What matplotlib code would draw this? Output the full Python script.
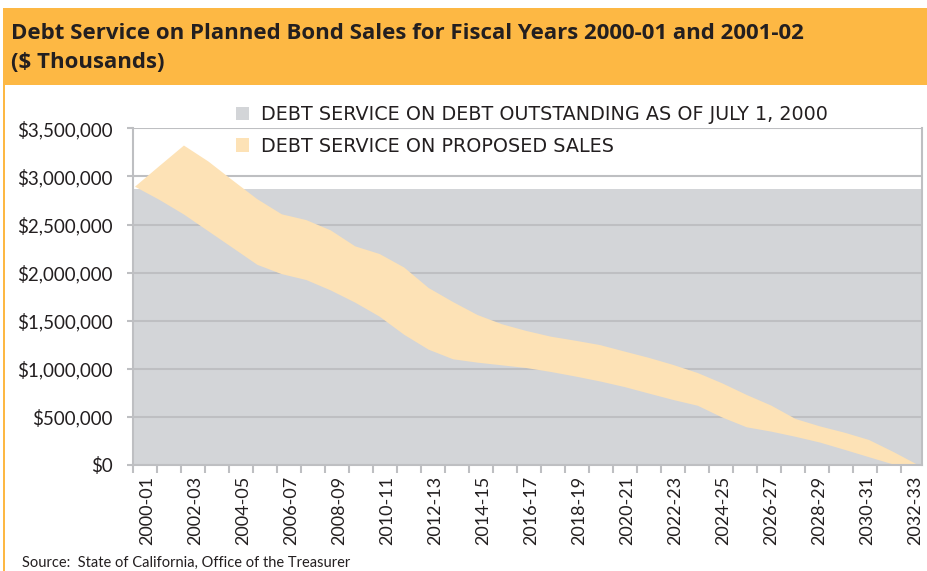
import matplotlib
matplotlib.use("Agg")
import matplotlib.pyplot as plt
from matplotlib.patches import Rectangle, Patch
from matplotlib.ticker import FixedLocator, FuncFormatter, NullFormatter

# ---------------- data ($ thousands) ----------------
fiscal_years = ["2000-01", "2001-02", "2002-03", "2003-04", "2004-05", "2005-06",
                "2006-07", "2007-08", "2008-09", "2009-10", "2010-11", "2011-12",
                "2012-13", "2013-14", "2014-15", "2015-16", "2016-17", "2017-18",
                "2018-19", "2019-20", "2020-21", "2021-22", "2022-23", "2023-24",
                "2024-25", "2025-26", "2026-27", "2027-28", "2028-29", "2029-30",
                "2030-31", "2031-32", "2032-33"]

# gray area: debt service on debt outstanding as of July 1, 2000 (drawn flat in the source)
outstanding_level = [2870000, 2870000, 2870000, 2870000, 2870000, 2870000, 2870000,
                     2870000, 2870000, 2870000, 2870000, 2870000, 2870000, 2870000,
                     2870000, 2870000, 2870000, 2870000, 2870000, 2870000, 2870000,
                     2870000, 2870000, 2870000, 2870000, 2870000, 2870000, 2870000,
                     2870000, 2870000, 2870000, 2870000, 2870000]

# peach band: debt service on proposed sales (bottom and top edge of the band)
proposed_bottom = [2893000, 2756000, 2604000, 2430000, 2256000, 2081000, 1984000,
                   1923000, 1815000, 1688000, 1542000, 1354000, 1199000, 1099000,
                   1064000, 1036000, 1008000, 967000, 920000, 869000, 811000,
                   743000, 676000, 616000, 494000, 392000, 347000, 293000,
                   233000, 158000, 81000, 5000, 0]
proposed_top = [2893000, 3108000, 3321000, 3155000, 2957000, 2763000, 2606000,
                2546000, 2439000, 2273000, 2193000, 2053000, 1840000, 1694000,
                1559000, 1463000, 1393000, 1334000, 1292000, 1247000, 1180000,
                1114000, 1040000, 956000, 849000, 728000, 618000, 478000,
                401000, 336000, 260000, 135000, 0]

y_ticks = [0, 500000, 1000000, 1500000, 2000000, 2500000, 3000000, 3500000]

legend_labels = ["DEBT SERVICE ON DEBT OUTSTANDING AS OF JULY 1, 2000",
                 "DEBT SERVICE ON PROPOSED SALES"]
title_line1 = "Debt Service on Planned Bond Sales for Fiscal Years 2000-01 and 2001-02"
title_line2 = "($ Thousands)"
source_text = "Source:  State of California, Office of the Treasurer"

# ---------------- style ----------------
W, H = 927, 571
ORANGE = "#FDB844"
GRAY_AREA = "#D3D5D8"
PEACH = "#FDE2B6"
GRID = "#BEBFC2"
TEXT = "#231F20"
PX = 0.72  # points per pixel at 100 dpi

fig = plt.figure(figsize=(W / 100, H / 100), dpi=100)

def fx(px):
    return px / W

def fy(py):
    return 1 - py / H

# banner and left rule
fig.patches.append(Rectangle((fx(3), fy(85)), fx(924), 77 / H, transform=fig.transFigure,
                             facecolor=ORANGE, edgecolor="none", zorder=0))
fig.patches.append(Rectangle((fx(3), 0), fx(2.2), fy(85), transform=fig.transFigure,
                             facecolor=ORANGE, edgecolor="none", zorder=0))

fig.text(fx(11), fy(39), title_line1, family="Open Sans", fontweight="bold", fontsize=16,
         color=TEXT, va="baseline", ha="left")
fig.text(fx(11), fy(68), title_line2, family="Open Sans", fontweight="bold", fontsize=16,
         color=TEXT, va="baseline", ha="left")

# axes: left spine at px 133, right edge 922, $0 at 465, $3.5M at 128.3
ax = fig.add_axes([fx(133), fy(465), fx(922 - 133), (465 - 128.3) / H])

# data index i sits at pixel 135 + 24.47*i
step = 24.47
def dx(px):
    return (px - 135) / step

x = list(range(len(fiscal_years)))
ax.set_xlim(dx(133), dx(922))
ax.set_ylim(0, 3500000)

xl = ax.get_xlim()
ax.fill_between([xl[0], xl[1]], 0, [outstanding_level[0], outstanding_level[-1]],
                facecolor=GRAY_AREA, edgecolor="none", zorder=0.2)
ax.fill_between(x, proposed_bottom, proposed_top, facecolor=PEACH, edgecolor="none",
                zorder=2, linewidth=0)

# gridlines
ax.set_yticks(y_ticks)
ax.yaxis.set_major_formatter(FuncFormatter(lambda v, p: "${:,.0f}".format(v)))
ax.yaxis.grid(True, color=GRID, linewidth=1.5)
ax.set_axisbelow(True)

# x ticks: marks at category boundaries, labels every other year
bounds = [dx(133 + 24 * k) for k in range(34) if 133 + 24 * k <= 921]
ax.xaxis.set_major_locator(FixedLocator(bounds))
ax.xaxis.set_major_formatter(NullFormatter())
label_pos = [dx(147 + 48 * j) for j in range(17)]
ax.xaxis.set_minor_locator(FixedLocator(label_pos))
ax.xaxis.set_minor_formatter(FuncFormatter(lambda v, p: fiscal_years[2 * p] if p < 17 else ""))

ax.tick_params(axis="x", which="major", length=8 * PX, width=1.5, color=GRID, direction="out")
ax.tick_params(axis="x", which="minor", length=0, pad=11 * PX, labelrotation=90,
               labelsize=13, labelcolor=TEXT)
ax.tick_params(axis="y", which="major", length=6.5 * PX, width=1.5, color=GRID,
               pad=13.5 * PX, labelsize=13.5, labelcolor=TEXT)
for lab in ax.get_yticklabels() + ax.get_xticklabels(minor=True):
    lab.set_family("Lato")

for side in ["left", "bottom", "right"]:
    ax.spines[side].set_color(GRID)
    ax.spines[side].set_linewidth(1.5)
ax.spines["top"].set_visible(False)
ax.patch.set_alpha(0)

# legend
handles = [Patch(facecolor=GRAY_AREA, edgecolor="none"),
           Patch(facecolor=PEACH, edgecolor="none")]
fig.legend(handles, legend_labels, loc="upper left",
           bbox_to_anchor=(fx(236), fy(105.5)), frameon=False,
           prop={"family": "DejaVu Sans", "size": 13.8}, labelcolor=TEXT,
           handlelength=0.68, handleheight=0.68, handletextpad=0.65,
           labelspacing=0.64, borderpad=0, borderaxespad=0)

fig.text(fx(22), fy(566.5), source_text, family="Lato", fontsize=10.5, color=TEXT,
         va="baseline", ha="left")

fig.savefig("out.png", dpi=100)
